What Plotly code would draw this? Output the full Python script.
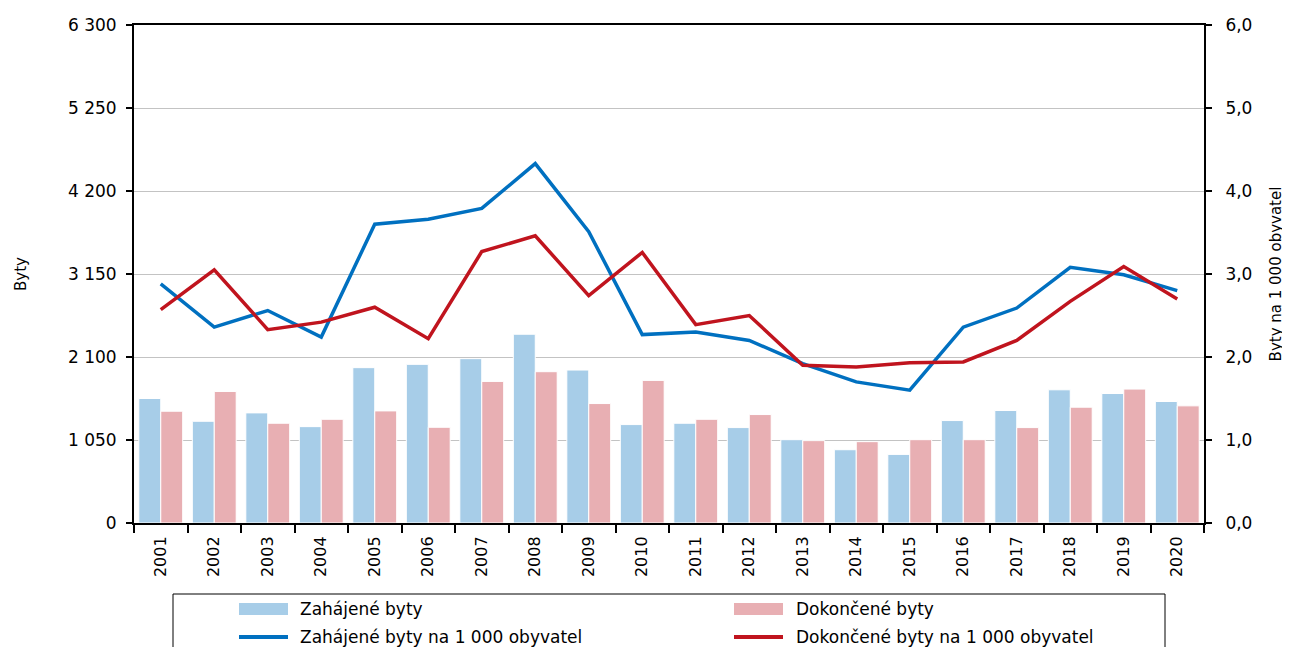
import plotly.graph_objects as go

years = [str(y) for y in range(2001, 2021)]
zahajene = [1575, 1287, 1393, 1219, 1965, 2007, 2079, 2388, 1935, 1245,
            1262, 1207, 1054, 927, 868, 1296, 1423, 1685, 1638, 1537]
dokoncene = [1414, 1664, 1262, 1312, 1418, 1211, 1791, 1914, 1511, 1804,
             1312, 1372, 1042, 1029, 1054, 1054, 1207, 1465, 1694, 1482]
zahajene_na1000 = [2.88, 2.36, 2.56, 2.24, 3.60, 3.66, 3.79, 4.33, 3.51, 2.27,
                   2.30, 2.20, 1.92, 1.70, 1.60, 2.36, 2.59, 3.08, 2.99, 2.80]
dokoncene_na1000 = [2.57, 3.05, 2.33, 2.42, 2.60, 2.22, 3.27, 3.46, 2.74, 3.26,
                    2.39, 2.50, 1.90, 1.88, 1.93, 1.94, 2.20, 2.67, 3.09, 2.70]

left_ticks = [0, 1050, 2100, 3150, 4200, 5250, 6300]
left_ticktext = ["0", "1 050", "2 100", "3 150", "4 200", "5 250", "6 300"]
right_ticks = [0, 1, 2, 3, 4, 5, 6]
right_ticktext = ["0,0", "1,0", "2,0", "3,0", "4,0", "5,0", "6,0"]

series_names = ["Zahájené byty", "Dokončené byty",
                "Zahájené byty na 1 000 obyvatel", "Dokončené byty na 1 000 obyvatel"]
bar_colors = ["#A7CDE8", "#E8AFB3"]
line_colors = ["#0070C0", "#C0141E"]

FONT = "DejaVu Sans"
OFF = 8  # page body margin in the browser
W, H = 1290 - OFF, 647 - OFF
ML, MR, MT, MB = 126, 86, 17, 124
PW, PH = W - ML - MR, H - MT - MB


def px_x(px):
    # px given in screen pixels of the photographed page
    return (px - OFF - ML) / PW


def px_y(py):
    return (H - MB - (py - OFF)) / PH


fig = go.Figure()
fig.add_trace(go.Bar(x=years, y=zahajene, name=series_names[0], showlegend=False,
                     marker=dict(color=bar_colors[0], line=dict(color="white", width=1))))
fig.add_trace(go.Bar(x=years, y=dokoncene, name=series_names[1], showlegend=False,
                     marker=dict(color=bar_colors[1], line=dict(color="white", width=1))))
fig.add_trace(go.Scatter(x=years, y=zahajene_na1000, name=series_names[2], showlegend=False,
                         mode="lines", yaxis="y2", line=dict(color=line_colors[0], width=3.5)))
fig.add_trace(go.Scatter(x=years, y=dokoncene_na1000, name=series_names[3], showlegend=False,
                         mode="lines", yaxis="y2", line=dict(color=line_colors[1], width=3.5)))

# Legend box (drawn manually, extends below the visible page like the original)
shapes = [dict(type="rect", xref="paper", yref="paper",
               x0=px_x(173), x1=px_x(1165), y0=px_y(594), y1=px_y(680),
               line=dict(color="black", width=1), fillcolor="white", layer="above")]
annotations = []
col_sym_x = [239, 734]
col_txt_x = [298, 794]
row_y = [609, 637]
for i in range(2):
    shapes.append(dict(type="rect", xref="paper", yref="paper",
                       x0=px_x(col_sym_x[i]), x1=px_x(col_sym_x[i] + 49),
                       y0=px_y(row_y[0] - 6), y1=px_y(row_y[0] + 6),
                       line=dict(width=0), fillcolor=bar_colors[i], layer="above"))
    annotations.append(dict(xref="paper", yref="paper", x=px_x(col_txt_x[i]), y=px_y(row_y[0]),
                            text=series_names[i], showarrow=False, xanchor="left", yanchor="middle",
                            font=dict(family=FONT, size=17, color="black")))
    shapes.append(dict(type="line", xref="paper", yref="paper",
                       x0=px_x(col_sym_x[i]), x1=px_x(col_sym_x[i] + 49),
                       y0=px_y(row_y[1]), y1=px_y(row_y[1]),
                       line=dict(color=line_colors[i], width=4), layer="above"))
    annotations.append(dict(xref="paper", yref="paper", x=px_x(col_txt_x[i]), y=px_y(row_y[1]),
                            text=series_names[2 + i], showarrow=False, xanchor="left", yanchor="middle",
                            font=dict(family=FONT, size=17, color="black")))

fig.update_layout(
    width=W, height=H,
    margin=dict(l=ML, r=MR, t=MT, b=MB, autoexpand=False),
    paper_bgcolor="white", plot_bgcolor="white",
    font=dict(family=FONT, size=17, color="black"),
    barmode="group", bargap=0.18, bargroupgap=0,
    showlegend=False,
    shapes=shapes, annotations=annotations,
    xaxis=dict(
        type="category", tickson="boundaries", ticks="outside", ticklen=8,
        tickwidth=2, tickcolor="black", tickangle=-90, ticklabelstandoff=5,
        showline=True, linecolor="black", linewidth=2, mirror=True,
        showgrid=False, tickfont=dict(family=FONT, size=16),
    ),
    yaxis=dict(
        range=[0, 6300], tickvals=left_ticks, ticktext=left_ticktext,
        ticks="outside", ticklen=6, tickwidth=2, tickcolor="black", ticklabelstandoff=6,
        showline=True, linecolor="black", linewidth=2,
        showgrid=True, gridcolor="#C3C3C3", gridwidth=1, zeroline=False,
        title=dict(text="Byty", font=dict(family=FONT, size=15), standoff=38),
    ),
    yaxis2=dict(
        range=[0, 6], tickvals=right_ticks, ticktext=right_ticktext,
        overlaying="y", side="right",
        ticks="outside", ticklen=6, tickwidth=2, tickcolor="black", ticklabelstandoff=10,
        showline=True, linecolor="black", linewidth=2,
        showgrid=False, zeroline=False,
        title=dict(text="Byty na 1 000 obyvatel", font=dict(family=FONT, size=15), standoff=19),
    ),
)

fig.write_html("out.html")
